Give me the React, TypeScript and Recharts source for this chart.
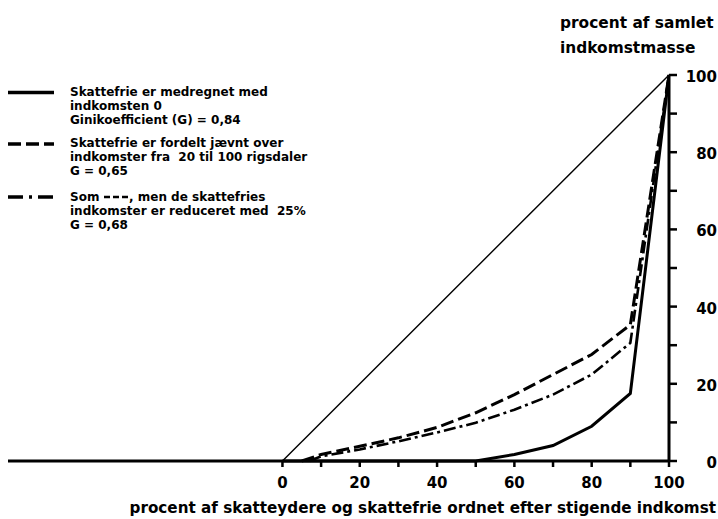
import React from 'react';
import { LineChart, Line, XAxis, YAxis } from 'recharts';

const xTicks = [0, 10, 20, 30, 40, 50, 60, 70, 80, 90, 100];
const yTicks = [0, 10, 20, 30, 40, 50, 60, 70, 80, 90, 100];

const equalityX = [0, 100];
const equalityY = [0, 100];

const solidX = [0, 50, 60, 70, 80, 90, 100];
const solidY = [0, 0, 1.7, 4, 9, 17.5, 100];

const dashedX = [5, 10, 20, 30, 40, 50, 60, 70, 80, 90, 100];
const dashedY = [0, 1.7, 3.8, 6, 8.7, 12.5, 17.2, 22.4, 27.6, 35.3, 100];

const dashDotX = [7, 10, 20, 30, 40, 50, 60, 70, 80, 90, 100];
const dashDotY = [0, 1.2, 3, 5.1, 7.4, 9.9, 13.3, 17.2, 22.4, 30.6, 100];

const legendLines1 = ['Skattefrie er medregnet med', 'indkomsten 0', 'Ginikoefficient (G) = 0,84'];
const legendLines2 = ['Skattefrie er fordelt jævnt over', 'indkomster fra  20 til 100 rigsdaler', 'G = 0,65'];
const legendLines3 = [', men de skattefries', 'indkomster er reduceret med  25%', 'G = 0,68'];
const yTitle = ['procent af samlet', 'indkomstmasse'];
const xTitle = 'procent af skatteydere og skattefrie ordnet efter stigende indkomst';

const zip = (xs: number[], ys: number[]) => xs.map((x, i) => ({ x, y: ys[i] }));

const FONT = '"DejaVu Sans", sans-serif';

const XTick = (props: any) => {
  const { x, y, payload } = props;
  if (payload.value % 20 !== 0) return <g />;
  return (
    <text x={x} y={y + 20.5} textAnchor="middle" fontFamily={FONT} fontWeight="bold" fontSize={15} fill="#000">
      {payload.value}
    </text>
  );
};

const YTick = (props: any) => {
  const { x, y, payload } = props;
  if (payload.value % 20 !== 0) return <g />;
  return (
    <text x={x + 40} y={y + 7} textAnchor="end" fontFamily={FONT} fontWeight="bold" fontSize={15} fill="#000">
      {payload.value}
    </text>
  );
};

const LegendText = ({ lines, y0 }: { lines: string[]; y0: number }) => (
  <>
    {lines.map((t, i) => (
      <text key={i} x={70} y={y0 + i * 14} fontFamily={FONT} fontWeight="bold" fontSize={12} fill="#000" style={{ whiteSpace: 'pre' }}>
        {t}
      </text>
    ))}
  </>
);

export default function App() {
  return (
    <div style={{ position: 'absolute', left: 0, top: 0, width: 718, height: 519, background: '#fff' }}>
      <LineChart width={718} height={519} margin={{ top: 75, right: 9, bottom: 28, left: 8 }}>
        <XAxis
          type="number"
          dataKey="x"
          domain={[-71, 100]}
          ticks={xTicks}
          interval={0}
          allowDataOverflow
          height={30}
          tickSize={6}
          tickMargin={0}
          axisLine={{ stroke: '#000', strokeWidth: 3 }}
          tickLine={{ stroke: '#000', strokeWidth: 2.5 }}
          tick={<XTick />}
        />
        <YAxis
          type="number"
          dataKey="y"
          orientation="right"
          domain={[0, 100]}
          ticks={yTicks}
          interval={0}
          width={40}
          tickSize={8}
          tickMargin={0}
          axisLine={{ stroke: '#000', strokeWidth: 3 }}
          tickLine={{ stroke: '#000', strokeWidth: 2.5 }}
          tick={<YTick />}
        />
        <Line data={zip(equalityX, equalityY)} dataKey="y" type="linear" stroke="#000" strokeWidth={1.4} dot={false} isAnimationActive={false} />
        <Line data={zip(dashedX, dashedY)} dataKey="y" type="linear" stroke="#000" strokeWidth={3} strokeDasharray="13 5" dot={false} isAnimationActive={false} />
        <Line data={zip(dashDotX, dashDotY)} dataKey="y" type="linear" stroke="#000" strokeWidth={2.6} strokeDasharray="12 4 3 4" dot={false} isAnimationActive={false} />
        <Line data={zip(solidX, solidY)} dataKey="y" type="linear" stroke="#000" strokeWidth={3} dot={false} isAnimationActive={false} />
      </LineChart>
      <svg width={718} height={519} style={{ position: 'absolute', left: 0, top: 0, pointerEvents: 'none' }}>
        <line x1={8} x2={54} y1={92.5} y2={92.5} stroke="#000" strokeWidth={3.5} />
        <line x1={8} x2={54} y1={144} y2={144} stroke="#000" strokeWidth={3.5} strokeDasharray="13 5" />
        <line x1={8} x2={56} y1={197} y2={197} stroke="#000" strokeWidth={3.5} strokeDasharray="15 6 3 6" />
        <LegendText lines={legendLines1} y0={96} />
        <LegendText lines={legendLines2} y0={147} />
        <text x={70} y={201} fontFamily={FONT} fontWeight="bold" fontSize={12} fill="#000">Som</text>
        <line x1={104} x2={128} y1={197} y2={197} stroke="#000" strokeWidth={2.5} strokeDasharray="6 3" />
        <text x={129} y={201} fontFamily={FONT} fontWeight="bold" fontSize={12} fill="#000">{legendLines3[0]}</text>
        <text x={70} y={215} fontFamily={FONT} fontWeight="bold" fontSize={12} fill="#000" style={{ whiteSpace: 'pre' }}>{legendLines3[1]}</text>
        <text x={70} y={229} fontFamily={FONT} fontWeight="bold" fontSize={12} fill="#000">{legendLines3[2]}</text>
        <text x={560} y={28} fontFamily={FONT} fontWeight="bold" fontSize={15.4} fill="#000">{yTitle[0]}</text>
        <text x={560} y={53} fontFamily={FONT} fontWeight="bold" fontSize={15.4} fill="#000">{yTitle[1]}</text>
        <text x={716} y={513} textAnchor="end" fontFamily={FONT} fontWeight="bold" fontSize={15.2} fill="#000">{xTitle}</text>
      </svg>
    </div>
  );
}
